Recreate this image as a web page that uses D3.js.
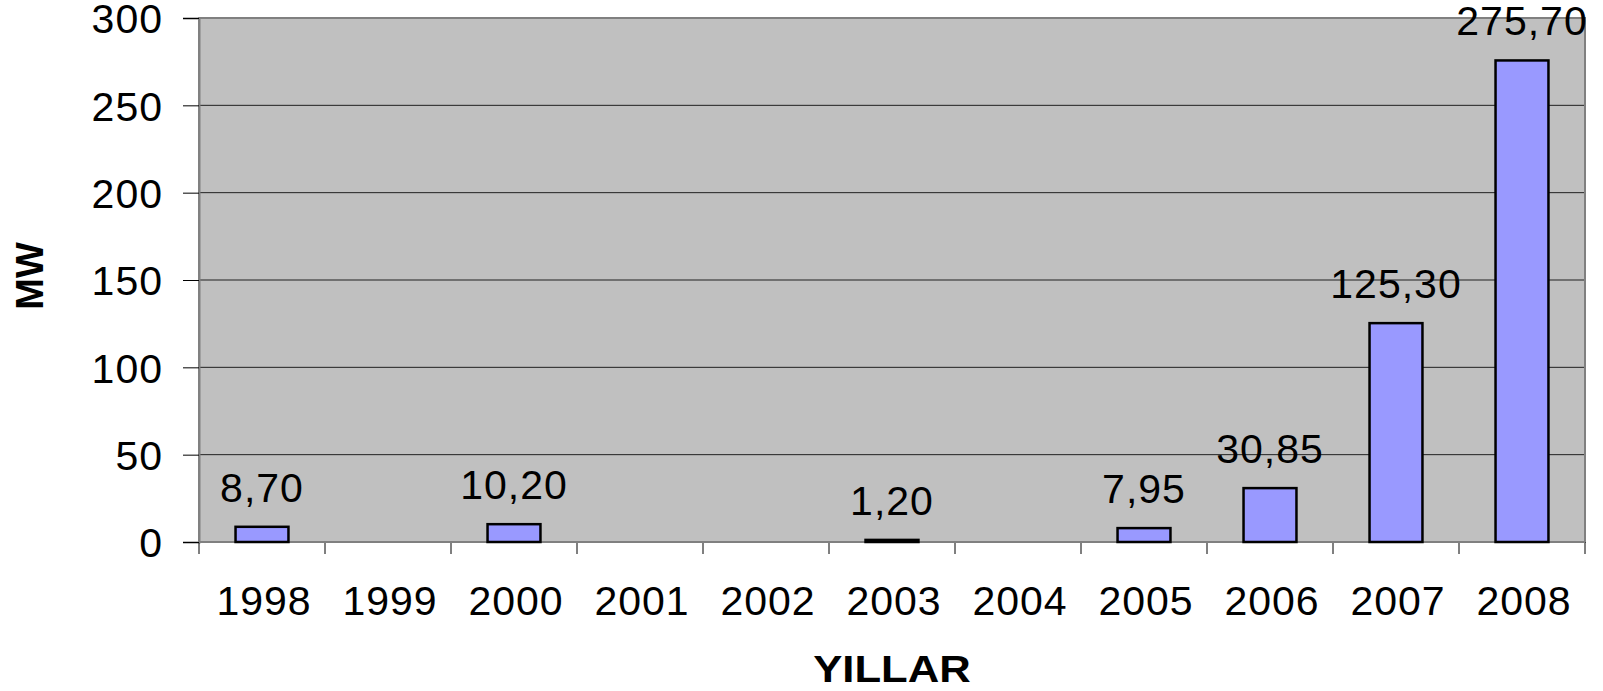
<!DOCTYPE html>
<html>
<head>
<meta charset="utf-8">
<script src="https://cdn.jsdelivr.net/npm/d3@7"></script>
<style>
  body { margin: 0; background: #fff; }
  text { font-family: "Liberation Sans", Arial, sans-serif; fill: #000; }
</style>
</head>
<body>
<svg id="chart" width="1603" height="691"></svg>
<script>
// data
var years = ["1998", "1999", "2000", "2001", "2002", "2003", "2004", "2005", "2006", "2007", "2008"];
var mw = [8.70, 0, 10.20, 0, 0, 1.20, 0, 7.95, 30.85, 125.30, 275.70];
var yTicks = [0, 50, 100, 150, 200, 250, 300];

var svg = d3.select("#chart");
// note: "top" is window.top, so use other names
var plotL = 199, plotR = 1585, plotT = 18, plotB = 542;

var x = d3.scaleBand()
    .domain(years)
    .range([plotL, plotR])
    .padding(0);

var y = d3.scaleLinear()
    .domain([0, 300])
    .range([plotB, plotT]);

var barW = x.bandwidth() * 0.42;

// plot background
svg.append("rect")
    .attr("x", plotL).attr("y", plotT)
    .attr("width", plotR - plotL).attr("height", plotB - plotT)
    .attr("fill", "#c0c0c0");

// grid lines
svg.selectAll(".grid")
    .data(yTicks.filter(function(d) { return d > 0 && d < 300; }))
    .enter().append("line")
    .attr("x1", plotL).attr("x2", plotR)
    .attr("y1", function(d) { return y(d); })
    .attr("y2", function(d) { return y(d); })
    .attr("stroke", "#202020")
    .attr("stroke-width", 1);

// plot border
svg.append("rect")
    .attr("x", plotL).attr("y", plotT)
    .attr("width", plotR - plotL).attr("height", plotB - plotT)
    .attr("fill", "none")
    .attr("stroke", "#808080")
    .attr("stroke-width", 2);

// y axis
var yAxis = svg.append("g")
    .attr("transform", "translate(" + plotL + ",0)")
    .call(d3.axisLeft(y).tickValues(yTicks).tickSize(16).tickPadding(20));
yAxis.select(".domain").attr("stroke", "#808080").attr("stroke-width", 2);
yAxis.selectAll(".tick line").attr("stroke", "#000");
yAxis.selectAll(".tick text")
    .style("font-size", "41px")
    .style("font-family", "Liberation Sans, Arial, sans-serif")
    .style("letter-spacing", "1px")
    .attr("dy", "0.36em");

// x axis ticks at band edges
var edges = years.map(function(d) { return x(d); }).concat([plotR]);
svg.selectAll(".xtick")
    .data(edges)
    .enter().append("line")
    .attr("x1", function(d) { return d; })
    .attr("x2", function(d) { return d; })
    .attr("y1", plotB).attr("y2", plotB + 12)
    .attr("stroke", "#000")
    .attr("stroke-width", 1);
svg.append("line")
    .attr("x1", plotL).attr("x2", plotR)
    .attr("y1", plotB).attr("y2", plotB)
    .attr("stroke", "#808080")
    .attr("stroke-width", 2);

svg.selectAll(".xlabel")
    .data(years)
    .enter().append("text")
    .attr("x", function(d) { return x(d) + x.bandwidth() / 2 + 2; })
    .attr("y", 615)
    .attr("text-anchor", "middle")
    .style("font-size", "41px")
    .style("letter-spacing", "1px")
    .text(function(d) { return d; });

// bars
var rows = years.map(function(d, i) { return {year: d, v: mw[i]}; });
var shown = rows.filter(function(d) { return d.v > 0; });

svg.selectAll(".bar")
    .data(shown)
    .enter().append("rect")
    .attr("x", function(d) { return x(d.year) + (x.bandwidth() - barW) / 2; })
    .attr("y", function(d) { return y(d.v); })
    .attr("width", barW)
    .attr("height", function(d) { return y(0) - y(d.v); })
    .attr("fill", "#9999ff")
    .attr("stroke", "#000")
    .attr("stroke-width", 2.5);

// value labels
svg.selectAll(".val")
    .data(shown)
    .enter().append("text")
    .attr("x", function(d) { return x(d.year) + x.bandwidth() / 2; })
    .attr("y", function(d) { return y(d.v) - 25; })
    .attr("text-anchor", "middle")
    .style("font-size", "41px")
    .style("letter-spacing", "1px")
    .text(function(d) { return d.v.toFixed(2).replace(".", ","); });

// axis titles (a bit wider than plain bold in the original)
svg.append("text")
    .attr("transform", "translate(" + ((plotL + plotR) / 2) + ",682) scale(1.18,1)")
    .attr("text-anchor", "middle")
    .style("font-size", "37px")
    .style("font-weight", "bold")
    .text("YILLAR");

svg.append("text")
    .attr("transform", "translate(43,276) rotate(-90)")
    .attr("text-anchor", "middle")
    .style("font-size", "38px")
    .style("font-weight", "bold")
    .text("MW");
</script>
</body>
</html>
